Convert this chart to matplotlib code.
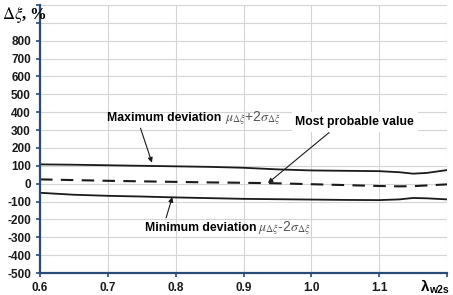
import numpy as np
import matplotlib
matplotlib.use("Agg")
import matplotlib.pyplot as plt

# values
lam = [0.6, 0.65, 0.7, 0.75, 0.8, 0.85, 0.9, 0.95, 1.0, 1.05, 1.1, 1.13, 1.15, 1.17, 1.2]
upper = [108, 106, 103, 100, 97, 94, 89, 80, 74, 72, 70, 64, 56, 60, 76]
probable = [24, 20, 16, 13, 10, 7, 5, 2, -3, -8, -13, -15, -14, -10, -4]
lower = [-51, -62, -68, -72, -77, -81, -85, -87, -89, -91, -92, -88, -80, -82, -88]

xticks = [0.6, 0.7, 0.8, 0.9, 1.0, 1.1]
yticks = [-500, -400, -300, -200, -100, 0, 100, 200, 300, 400, 500, 600, 700, 800]

plt.rcParams['font.family'] = ['Liberation Sans', 'DejaVu Sans']
plt.rcParams['mathtext.fontset'] = 'stix'
spine_col = '#2a4a78'

fig = plt.figure(figsize=(4.53, 2.95), dpi=100)
ax = fig.add_axes([40/453, 22/295, 407/453, 268/295])

ax.plot(lam, upper, color='#1a1a1a', lw=1.3)
ax.plot(lam, probable, color='#1a1a1a', lw=1.5, dashes=(6, 4))
ax.plot(lam, lower, color='#1a1a1a', lw=1.3)

ax.set_xlim(0.6, 1.2)
ax.set_ylim(-500, 1000)
ax.set_xticks(xticks + [1.2])
ax.set_xticklabels(['%.1f' % v for v in xticks] + [''])
ax.set_yticks(yticks + [900, 1000])
ax.set_yticklabels([str(v) for v in yticks] + ['', ''])
ax.grid(True, color='#d4d4d4', lw=0.8)
ax.set_axisbelow(True)
for s in ['top', 'right']:
    ax.spines[s].set_visible(False)
for s in ['left', 'bottom']:
    ax.spines[s].set_color(spine_col)
    ax.spines[s].set_linewidth(1.6)
ax.tick_params(axis='both', colors=spine_col, length=3, width=1.2, labelsize=8.5)
for lbl in ax.get_xticklabels() + ax.get_yticklabels():
    lbl.set_fontweight('bold')
    lbl.set_color('#1a1a1a')

math_max = r'$\mu_{\Delta\xi}$+2$\sigma_{\Delta\xi}$'
math_min = r'$\mu_{\Delta\xi}$-2$\sigma_{\Delta\xi}$'
arr = dict(arrowstyle='-|>', color='#1a1a1a', lw=0.8, mutation_scale=7, shrinkA=1, shrinkB=0)

ax.annotate('Maximum deviation', xy=(0.765, 118), xytext=(0.699, 367),
            fontsize=8.8, fontweight='bold', ha='left', va='center',
            arrowprops=dict(arr, relpos=(0.28, 0)))
ax.text(0.873, 367, math_max, fontsize=10, color='#555555', ha='left', va='center')

ax.annotate('Most probable value', xy=(0.936, 3), xytext=(1.064, 345),
            fontsize=8.8, fontweight='bold', ha='center', va='center',
            bbox=dict(boxstyle='square,pad=0.3', fc='white', ec='none'),
            arrowprops=dict(arr, relpos=(0.33, 0)))

ax.annotate('Minimum deviation', xy=(0.795, -75), xytext=(0.7545, -248),
            fontsize=8.8, fontweight='bold', ha='left', va='center',
            arrowprops=dict(arr, relpos=(0.18, 1)))
ax.text(0.921, -248, math_min, fontsize=10, color='#555555', ha='left', va='center')

fig.text(2/453, 1 - 15/295, r'$\mathrm{\Delta}\xi$, %', fontsize=12, fontweight='bold',
         ha='left', va='center', family='Liberation Serif')
# axis label for lambda, in the tick label row at the right end
fig.text(421/453, 1 - 287/295, 'λ', fontsize=11, fontweight='bold', ha='left', va='center')
fig.text(429/453, 1 - 290/295, 'w2s', fontsize=7.5, fontweight='bold', ha='left', va='center')

fig.savefig('out.png', dpi=100)
